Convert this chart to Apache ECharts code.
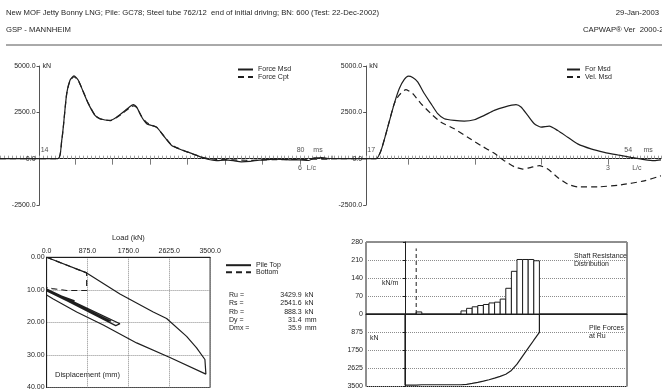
<!DOCTYPE html>
<html>
<head>
<meta charset="utf-8">
<script src="https://cdn.jsdelivr.net/npm/echarts@6/dist/echarts.min.js"></script>
<style>
  html, body { margin: 0; padding: 0; background: #fff; }
  #chart { width: 662px; height: 391px; }
</style>
</head>
<body>
<div id="chart"></div>
<script>
// ---------- header ----------
const headerLeft = [
  'New MOF Jetty Bonny LNG; Pile: GC78; Steel tube 762/12  end of initial driving; BN: 600 (Test: 22-Dec-2002)',
  'GSP - MANNHEIM'
];
const headerRight = ['29-Jan-2003', 'CAPWAP\u00AE Ver  2000-2'];

// ---------- force match (time in ms, force in kN) ----------
const timeL     = [4, 18.66, 19.6, 20.0, 20.86, 21.7, 22.71, 23.8, 25.06, 26.33, 28.02, 29.29, 31.81, 33.51, 35.18, 36.87, 37.7, 38.56, 39.83, 41.09, 42.36, 43.62, 45.29, 47.41, 49.94, 52.87, 55.4, 58.79, 60.9, 62.99, 65.0, 67.21, 69.5, 71.43, 73.0, 75.63, 77.5, 79.85, 82.0, 83.5, 84.08, 85.2, 87.44];
const forceMsdL = [0, 0, 977, 1700, 3513, 4235, 4470, 4235, 3600, 2970, 2335, 2155, 2063, 2245, 2515, 2820, 2915, 2785, 2245, 1883, 1790, 1700, 1250, 706, 470, 255, 38, -108, -70, -108, -170, -145, -80, -54, -30, -38, -60, -70, -100, 40, 38, 60, -16];
const forceCptL = [0, 0, 940, 1680, 3480, 4200, 4420, 4210, 3620, 2990, 2350, 2150, 2050, 2220, 2480, 2760, 2850, 2760, 2280, 1950, 1810, 1690, 1270, 740, 480, 240, 60, -40, -60, -70, -80, -90, -70, -60, -55, -50, -45, -40, -30, -25, -20, -20, -20];

// ---------- force and velocity (right) ----------
const timeR     = [12, 18.4, 19.11, 20.07, 21.0, 21.72, 22.43, 23.0, 23.62, 24.33, 25.27, 26.22, 27.18, 28.12, 29.54, 30.96, 32.38, 33.81, 35.23, 36.65, 38.32, 39.03, 39.98, 40.92, 41.87, 43.05, 44.25, 45.67, 47.09, 48.98, 50.88, 52.78, 54.67, 56.57, 57.99, 58.94];
const forceMsdR = [0, 0, 434, 1700, 2970, 3785, 4273, 4453, 4380, 4145, 3513, 2970, 2427, 2155, 2063, 2027, 2100, 2335, 2606, 2785, 2915, 2785, 2335, 1883, 1700, 1754, 1520, 1157, 798, 527, 342, 200, 70, -54, -108, -70];
const timeVelR  = [12, 18.4, 19.11, 20.07, 21.0, 21.67, 22.67, 23.62, 24.8, 26.22, 27.65, 29.54, 31.44, 33.34, 35.23, 36.65, 38.07, 39.27, 40.45, 41.63, 42.83, 44.25, 45.67, 47.09, 49.94, 53.25, 56.57, 58.94];
const velMsdR   = [0, 0, 434, 1700, 2970, 3420, 3730, 3513, 2970, 2427, 1970, 1612, 1157, 706, 290, -108, -434, -560, -470, -380, -560, -1015, -1375, -1520, -1520, -1412, -1195, -923];

// ---------- time axis marks ----------
const startMsL = 14, endMsL = 80;
const startMsR = 17, endMsR = 54;
const lcZeroMs = 23, lcMs = 9.47;
const lcCountL = 6, lcCountR = 3;

// ---------- simulated static load test (load kN, displacement mm) ----------
const topLoad = [0, 858, 1570, 2283, 2569, 2997, 3211, 3389, 3410, 2640, 1927, 1213, 644, 143, 0, -212, 1570, 1480, -120, 1380, 1300, -60, 600];
const topDisp = [0, 4.8, 11.3, 16.8, 18.8, 24.3, 27.8, 31.4, 35.9, 30.8, 26.3, 20.8, 16.8, 12.8, 11.6, 8.3, 20.4, 21.0, 9.3, 19.6, 19.4, 9.9, 13.4];
const botLoad = [0, 858, 858, 430, 120, -60];
const botDisp = [0, 4.8, 10.2, 10.2, 9.6, 9.1];

// ---------- results ----------
const resultNames  = ['Ru =', 'Rs =', 'Rb =', 'Dy =', 'Dmx ='];
const resultValues = [3429.9, 2541.6, 888.3, 31.4, 35.9];
const resultUnits  = ['kN', 'kN', 'kN', 'mm', 'mm'];

// ---------- shaft resistance per pile segment (kN/m) ----------
const segLength = 1.82;
const shaftRes = [0, 0, 8, 0, 0, 0, 0, 0, 0, 0, 12, 22, 28, 33, 37, 43, 46, 58, 100, 166, 212, 212, 212, 207];
const soilTopDepth = 3.64;

// ---------- styling ----------
const FONT = '"Liberation Sans", Arial, Helvetica, sans-serif';
const INK = '#1e1e1e';
const DOT = '#8c8c8c';
const TICK = '#a0a0a0';

const zip = (a, b) => a.map((v, i) => [v, b[i]]);
const lcTicksL = Array.from({ length: lcCountL + 1 }, (_, k) => lcZeroMs + k * lcMs);
const lcTicksR = Array.from({ length: lcCountR + 1 }, (_, k) => lcZeroMs + k * lcMs);

// pile force along the shaft at ultimate resistance
const Ru = resultValues[0];
const pileForce = [[0, 0], [0, Ru]];
let f = Ru;
shaftRes.forEach((r, i) => { f -= r * segLength; pileForce.push([(i + 1) * segLength, f]); });
pileForce.push([shaftRes.length * segLength, 0]);

const txt = (x, y, text, size, align) => ({
  type: 'text', x: x, y: y, silent: true,
  style: { text: text, font: size + 'px ' + FONT, fill: INK, align: align || 'left', verticalAlign: 'middle' }
});

const forceYAxis = (grid, offset) => ({
  gridIndex: grid, type: 'value', min: -2500, max: 5000, interval: 2500, offset: offset,
  axisLine: { show: true, onZero: false, lineStyle: { color: '#555', width: 1 } },
  axisTick: { show: true, length: 3, lineStyle: { color: '#555' } },
  axisLabel: { formatter: v => v.toFixed(1), fontSize: 7, margin: 4, color: INK, fontFamily: FONT },
  splitLine: { show: false },
  name: 'kN', nameLocation: 'end', nameGap: 0,
  nameTextStyle: { align: 'left', verticalAlign: 'middle', padding: [0, 0, 0, 3], fontSize: 7, color: INK, fontFamily: FONT }
});

// fine time ticks above the zero line
const msAxis = (grid, yIdx, min, max, step) => ({
  gridIndex: grid, type: 'value', position: 'top', min: min, max: max, interval: step,
  axisLine: { onZero: true, onZeroAxisIndex: yIdx, lineStyle: { color: INK, width: 1 } },
  axisTick: { show: true, length: 3, lineStyle: { color: TICK } },
  axisLabel: { show: false },
  splitLine: { show: false }
});

// L/c ticks below the zero line
const lcAxis = (grid, yIdx, min, max, ticks) => ({
  gridIndex: grid, type: 'value', position: 'bottom', min: min, max: max,
  axisLine: { show: false, onZero: true, onZeroAxisIndex: yIdx },
  axisTick: { show: true, customValues: ticks, length: 6, lineStyle: { color: '#7a7a7a' } },
  axisLabel: { show: false },
  splitLine: { show: false }
});

// time / L/c annotations anchored on the zero line
const markLabel = (x, text, above, dx) => ({
  value: [x, 0],
  label: { show: true, formatter: text, position: above ? 'top' : 'bottom', distance: above ? 5 : 6, offset: [dx || 0, 0] }
});
const timeMarks = (xi, yi, items) => ({
  type: 'scatter', xAxisIndex: xi, yAxisIndex: yi, symbolSize: 0, silent: true, z: 5,
  label: { fontSize: 7, color: INK, fontFamily: FONT },
  data: items
});

const lineSeries = (name, xi, yi, data, dashed, extra) => Object.assign({
  type: 'line', name: name, xAxisIndex: xi, yAxisIndex: yi, data: data,
  symbol: 'none', smooth: 0.2, animation: false,
  lineStyle: { color: INK, width: 1.2, type: dashed ? [6, 4] : 'solid' },
  itemStyle: { color: INK }
}, extra || {});

const legendBase = {
  orient: 'vertical', itemHeight: 8, padding: 0, selectedMode: false,
  itemStyle: { opacity: 0 },
  textStyle: { fontSize: 7, color: INK, fontFamily: FONT }
};

const graphics = [
  txt(6, 13, headerLeft[0], 7.7),
  txt(6, 30, headerLeft[1], 7.7),
  txt(659, 13, headerRight[0], 7.7, 'right'),
  txt(583, 30, headerRight[1], 7.7),
  { type: 'line', silent: true, shape: { x1: 6, y1: 45, x2: 662, y2: 45 }, style: { stroke: '#555', lineWidth: 1 } },
  txt(574, 256, 'Shaft Resistance', 7),
  txt(574, 264.5, 'Distribution', 7),
  txt(382, 283.5, 'kN/m', 7),
  txt(370, 338, 'kN', 7),
  txt(589, 328, 'Pile Forces', 7),
  txt(589, 336.5, 'at Ru', 7),
  txt(55, 374.5, 'Displacement (mm)', 7.5)
];
resultNames.forEach((n, i) => {
  const y = 295 + i * 8.3;
  graphics.push(txt(229, y, n, 7));
  graphics.push(txt(301.7, y, resultValues[i].toFixed(1), 7, 'right'));
  graphics.push(txt(305, y, resultUnits[i], 7));
});

const chart = echarts.init(document.getElementById('chart'), null, { renderer: 'canvas' });
chart.setOption({
  animation: false,
  backgroundColor: '#fff',
  textStyle: { fontFamily: FONT, color: INK },
  grid: [
    { left: 0, top: 66, width: 332.2, height: 139 },
    { left: 331, top: 66, width: 330.4, height: 139 },
    { left: 46.6, top: 257.3, width: 163.5, height: 133.3, show: true, borderColor: INK, borderWidth: 1 },
    { left: 366, top: 242, width: 261, height: 72, show: true, borderColor: INK, borderWidth: 1 },
    { left: 366, top: 314, width: 261, height: 72.5, show: true, borderColor: INK, borderWidth: 1 }
  ],
  legend: [
    Object.assign({ data: ['Force Msd', 'Force Cpt'], left: 237, top: 66, itemWidth: 15, itemGap: 0.5 }, legendBase),
    Object.assign({ data: ['For Msd', 'Vel. Msd'], left: 566, top: 66, itemWidth: 13, itemGap: 0.5 }, legendBase),
    Object.assign({ data: ['Pile Top', 'Bottom'], left: 225, top: 261.7, itemWidth: 25, itemGap: 0 }, legendBase)
  ],
  xAxis: [
    msAxis(0, 0, 4, 88, 1),
    lcAxis(0, 0, 4, 88, lcTicksL),
    msAxis(1, 1, 12, 59, 0.5),
    lcAxis(1, 1, 12, 59, lcTicksR),
    {
      gridIndex: 2, type: 'value', position: 'top', min: 0, max: 3500, interval: 875,
      axisLine: { show: true, lineStyle: { color: INK } }, axisTick: { show: false },
      axisLabel: { formatter: v => v.toFixed(1), fontSize: 7, margin: 3, color: INK, fontFamily: FONT },
      splitLine: { show: true, lineStyle: { type: 'dotted', color: DOT } },
      name: 'Load (kN)', nameLocation: 'middle', nameGap: 15,
      nameTextStyle: { fontSize: 7.5, color: INK, fontFamily: FONT }
    },
    {
      gridIndex: 3, type: 'value', min: -12.67, max: 72.15,
      axisLine: { show: true, onZero: true, lineStyle: { color: INK } },
      axisTick: { show: false }, axisLabel: { show: false }, splitLine: { show: false }
    },
    {
      gridIndex: 4, type: 'value', min: -12.67, max: 72.15,
      axisLine: { show: false }, axisTick: { show: false }, axisLabel: { show: false }, splitLine: { show: false }
    }
  ],
  yAxis: [
    forceYAxis(0, -39.55),
    forceYAxis(1, -35.15),
    {
      gridIndex: 2, type: 'value', inverse: true, min: 0, max: 40, interval: 10,
      axisLine: { show: true, lineStyle: { color: INK } }, axisTick: { show: false },
      axisLabel: { formatter: v => v.toFixed(2), fontSize: 7, margin: 2, color: INK, fontFamily: FONT },
      splitLine: { show: true, lineStyle: { type: 'dotted', color: DOT } }
    },
    {
      gridIndex: 3, type: 'value', min: 0, max: 280, interval: 70,
      axisLine: { show: true, lineStyle: { color: INK } },
      axisTick: { show: true, length: 2, lineStyle: { color: INK } },
      axisLabel: { fontSize: 7, margin: 3, color: INK, fontFamily: FONT },
      splitLine: { show: true, lineStyle: { type: 'dotted', color: DOT } }
    },
    {
      gridIndex: 4, type: 'value', inverse: true, min: 0, max: 3500, interval: 875,
      axisLine: { show: true, lineStyle: { color: INK } },
      axisTick: { show: true, length: 2, lineStyle: { color: INK } },
      axisLabel: { fontSize: 7, margin: 3, color: INK, fontFamily: FONT, showMinLabel: false, formatter: v => String(v) },
      splitLine: { show: true, lineStyle: { type: 'dotted', color: DOT } }
    }
  ],
  graphic: graphics,
  series: [
    lineSeries('Force Msd', 0, 0, zip(timeL, forceMsdL), false),
    lineSeries('Force Cpt', 0, 0, zip(timeL, forceCptL), true),
    lineSeries('For Msd', 2, 1, zip(timeR, forceMsdR), false),
    lineSeries('Vel. Msd', 2, 1, zip(timeVelR, velMsdR), true),
    timeMarks(0, 0, [
      markLabel(startMsL, String(startMsL), true, 5),
      markLabel(endMsL, String(endMsL), true),
      markLabel(84.4, 'ms', true),
      markLabel(lcTicksL[lcCountL], String(lcCountL), false),
      markLabel(82.7, 'L/c', false)
    ]),
    timeMarks(2, 1, [
      markLabel(startMsR, String(startMsR), true, 5),
      markLabel(endMsR, String(endMsR), true, 2),
      markLabel(57.1, 'ms', true),
      markLabel(lcTicksR[lcCountR], String(lcCountR), false),
      markLabel(55.5, 'L/c', false)
    ]),
    lineSeries('Pile Top', 4, 2, zip(topLoad, topDisp), false, { smooth: false, clip: false }),
    lineSeries('Bottom', 4, 2, zip(botLoad, botDisp), true, { smooth: false, clip: false }),
    {
      type: 'custom', name: 'Shaft Resistance', xAxisIndex: 5, yAxisIndex: 3,
      data: shaftRes.map((v, i) => [i * segLength, (i + 1) * segLength, v]),
      encode: { x: [0, 1], y: 2 },
      renderItem: (params, api) => {
        const v = api.value(2);
        if (!(v > 0)) return { type: 'group', children: [] };
        const a = api.coord([api.value(0), v]);
        const b = api.coord([api.value(1), 0]);
        return {
          type: 'rect',
          shape: { x: a[0], y: a[1], width: b[0] - a[0], height: b[1] - a[1] },
          style: { fill: '#fff', stroke: INK, lineWidth: 1 }
        };
      }
    },
    lineSeries('Soil Top', 5, 3, [[soilTopDepth, 0], [soilTopDepth, 255]], true, { smooth: false, lineStyle: { color: INK, width: 1, type: [4, 3] } }),
    lineSeries('Pile Forces', 6, 4, pileForce, false, { smooth: false })
  ]
});
</script>
</body>
</html>
